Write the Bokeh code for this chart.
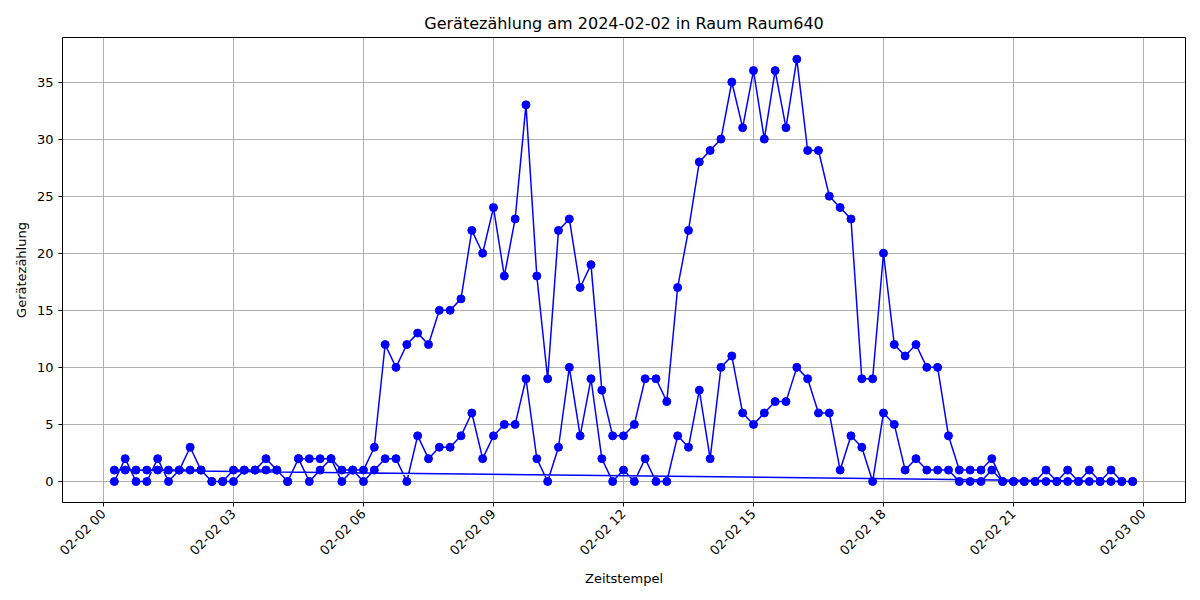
from bokeh.plotting import figure
from bokeh.models import FixedTicker, DatetimeTickFormatter, Range1d
from bokeh.embed import file_html
from bokeh.resources import INLINE
import pandas as pd
import math

# Zwei Geräte-Reihen, 15-min Takt ab 00:15
zeiten = pd.date_range("2024-02-02 00:15", periods=95, freq="15min")
werte_a = [0, 2, 0, 0, 2, 0, 1, 3, 1, 0, 0, 1, 1, 1, 2, 1, 0, 2, 2, 2, 2, 1, 1, 1,
           3, 12, 10, 12, 13, 12, 15, 15, 16, 22, 20, 24, 18, 23, 33, 18, 9, 22, 23, 17, 19, 8,
           4, 4, 5, 9, 9, 7, 17, 22, 28, 29, 30, 35, 31, 36, 30, 36, 31, 37, 29, 29, 25, 24,
           23, 9, 9, 20, 12, 11, 12, 10, 10, 4, 1, 1, 1, 2, 0, 0, 0, 0, 1, 0, 1, 0, 1, 0, 1, 0, 0]
werte_b = [1, 1, 1, 1, 1, 1, 1, 1, 1, 0, 0, 0, 1, 1, 1, 1, 0, 2, 0, 1, 2, 0, 1, 0,
           1, 2, 2, 0, 4, 2, 3, 3, 4, 6, 2, 4, 5, 5, 9, 2, 0, 3, 10, 4, 9, 2,
           0, 1, 0, 2, 0, 0, 4, 3, 8, 2, 10, 11, 6, 5, 6, 7, 7, 10, 9, 6, 6, 1,
           4, 3, 0, 6, 5, 1, 2, 1, 1, 1, 0, 0, 0, 1, 0, 0, 0, 0, 0, 0, 0, 0, 0, 0, 0, 0, 0]

x = list(zeiten) + list(zeiten)
y = werte_a + werte_b

t0 = pd.Timestamp("2024-02-02 00:00")
h = 3600 * 1000
p = figure(width=1192, height=592, x_axis_type="datetime",
           title="Gerätezählung am 2024-02-02 in Raum Raum640",
           x_axis_label="Zeitstempel", y_axis_label="Gerätezählung",
           output_backend="svg", toolbar_location=None,
           min_border_left=62, min_border_right=7, min_border_top=37, min_border_bottom=90)
p.x_range = Range1d(t0 - pd.Timedelta(hours=0.946), t0 + pd.Timedelta(hours=24.97))
p.y_range = Range1d(-1.84, 38.9)

p.line(x, y, line_color="blue", line_width=1.5)
p.scatter(x, y, size=8, color="blue")

p.title.align = "center"
p.title.text_font = "DejaVu Sans"
p.title.text_font_size = "16px"
p.title.text_font_style = "normal"
p.title.text_color = "black"
p.outline_line_color = "black"

t0ms = t0.timestamp() * 1000
p.xaxis.ticker = FixedTicker(ticks=[t0ms + i * 3 * h for i in range(9)])
p.xaxis.formatter = DatetimeTickFormatter(hours="%m-%d %H", days="%m-%d %H")
p.xaxis.major_label_orientation = math.pi / 4
p.yaxis.ticker = FixedTicker(ticks=[0, 5, 10, 15, 20, 25, 30, 35])

for ax in (p.xaxis, p.yaxis):
    ax.axis_line_color = None
    ax.minor_tick_line_color = None
    ax.major_tick_out = 4
    ax.major_tick_in = 0
    ax.major_label_text_font = "DejaVu Sans"
    ax.major_label_text_font_size = "13px"
    ax.major_label_text_color = "black"
    ax.axis_label_text_font = "DejaVu Sans"
    ax.axis_label_text_font_size = "13px"
    ax.axis_label_text_font_style = "normal"
    ax.axis_label_text_color = "black"

p.grid.grid_line_color = "#b0b0b0"
p.grid.grid_line_width = 1

open("out.html", "w").write(file_html(p, INLINE))
